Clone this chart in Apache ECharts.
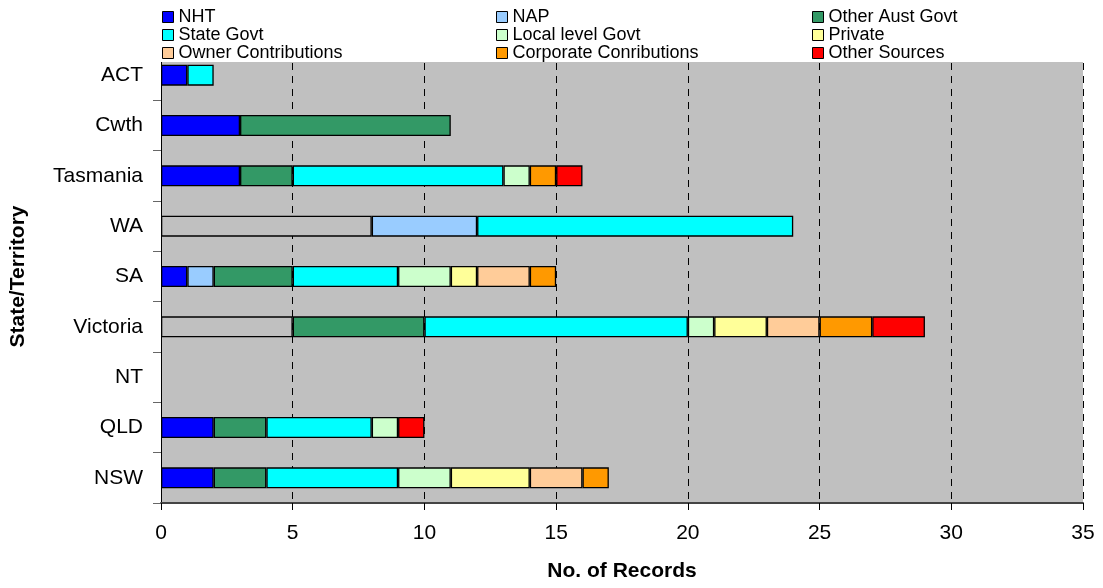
<!DOCTYPE html>
<html>
<head>
<meta charset="utf-8">
<title>Records by State/Territory and funding source</title>
<script src="https://cdn.jsdelivr.net/npm/echarts@6/dist/echarts.min.js"></script>
<style>
  html, body { margin: 0; padding: 0; background: #ffffff; }
  #chart { width: 1103px; height: 588px; }
</style>
</head>
<body>
<div id="chart"></div>
<script>
// Categories, bottom to top
const categories = ['NSW', 'QLD', 'NT', 'Victoria', 'SA', 'WA', 'Tasmania', 'Cwth', 'ACT'];

// Number of records per funding source, in category order
const nht            = [2, 2, 0, 5, 1, 8, 3, 3, 1];
const nap            = [0, 0, 0, 0, 1, 4, 0, 0, 0];
const otherAustGovt  = [2, 2, 0, 5, 3, 0, 2, 8, 0];
const stateGovt      = [5, 4, 0, 10, 4, 12, 8, 0, 1];
const localGovt      = [2, 1, 0, 1, 2, 0, 1, 0, 0];
const privateFunds   = [3, 0, 0, 2, 1, 0, 0, 0, 0];
const ownerContrib   = [2, 0, 0, 2, 2, 0, 0, 0, 0];
const corporateContrib = [1, 0, 0, 2, 1, 0, 1, 0, 0];
const otherSources   = [0, 1, 0, 2, 0, 0, 1, 0, 0];

// NHT segments shown without fill
const nhtUnfilled = ['Victoria', 'WA'];

const xTicks = [0, 5, 10, 15, 20, 25, 30, 35];

const seriesDefs = [
  { name: 'NHT', values: nht, color: '#0000FF' },
  { name: 'NAP', values: nap, color: '#99CCFF' },
  { name: 'Other Aust Govt', values: otherAustGovt, color: '#339966' },
  { name: 'State Govt', values: stateGovt, color: '#00FFFF' },
  { name: 'Local level Govt', values: localGovt, color: '#CCFFCC' },
  { name: 'Private', values: privateFunds, color: '#FFFF99' },
  { name: 'Owner Contributions', values: ownerContrib, color: '#FFCC99' },
  { name: 'Corporate Conributions', values: corporateContrib, color: '#FF9900' },
  { name: 'Other Sources', values: otherSources, color: '#FF0000' }
];

const plotBg = '#C0C0C0';
const font = 'Liberation Sans, Arial, sans-serif';

const series = seriesDefs.map(function (s) {
  return {
    name: s.name,
    type: 'bar',
    stack: 'total',
    barWidth: 21,
    itemStyle: { color: s.color, borderColor: '#000000', borderWidth: 1.3 },
    emphasis: { disabled: true },
    data: s.values.map(function (v, i) {
      if (!v) return '-';
      if (s.name === 'NHT' && nhtUnfilled.indexOf(categories[i]) >= 0) {
        return { value: v, itemStyle: { color: plotBg } };
      }
      return v;
    })
  };
});

function legendColumn(names, left) {
  return {
    orient: 'vertical',
    left: left,
    top: 3,
    itemWidth: 11,
    itemHeight: 11,
    itemGap: 0,
    icon: 'rect',
    selectedMode: false,
    data: names,
    itemStyle: { borderColor: '#000000', borderWidth: 1 },
    textStyle: { fontFamily: font, fontSize: 18, color: '#000000', lineHeight: 17 }
  };
}

const chart = echarts.init(document.getElementById('chart'), null, { renderer: 'canvas' });
chart.setOption({
  animation: false,
  backgroundColor: '#ffffff',
  legend: [
    legendColumn(['NHT', 'State Govt', 'Owner Contributions'], 157),
    legendColumn(['NAP', 'Local level Govt', 'Corporate Conributions'], 491),
    legendColumn(['Other Aust Govt', 'Private', 'Other Sources'], 807)
  ],
  grid: {
    left: 161, right: 20, top: 50, bottom: 85,
    show: true, backgroundColor: plotBg, borderWidth: 0
  },
  graphic: [{
    type: 'rect', z: 3, silent: true,
    shape: { x: 0, y: 0, width: 1103, height: 62 },
    style: { fill: '#ffffff' }
  }],
  xAxis: {
    type: 'value',
    min: xTicks[0],
    max: xTicks[xTicks.length - 1],
    interval: 5,
    name: 'No. of Records',
    nameLocation: 'middle',
    nameGap: 58,
    nameTextStyle: { fontFamily: font, fontSize: 21, fontWeight: 'bold', color: '#000000' },
    axisLine: { show: true, lineStyle: { color: '#444444', width: 2 } },
    axisTick: { show: true, length: 7, lineStyle: { color: '#000000' } },
    axisLabel: { margin: 20, fontFamily: font, fontSize: 21, color: '#000000' },
    splitLine: { show: true, lineStyle: { color: '#000000', type: [7, 6], width: 1 } }
  },
  yAxis: {
    type: 'category',
    data: categories,
    name: 'State/Territory',
    nameLocation: 'middle',
    nameGap: 132,
    nameTextStyle: { fontFamily: font, fontSize: 21, fontWeight: 'bold', color: '#000000' },
    axisLine: { show: true, lineStyle: { color: '#000000', width: 1 } },
    axisTick: { show: true, length: 8, lineStyle: { color: '#666666' } },
    axisLabel: { margin: 18, fontFamily: font, fontSize: 21, color: '#000000' },
    splitLine: { show: false }
  },
  series: series
});
</script>
</body>
</html>
